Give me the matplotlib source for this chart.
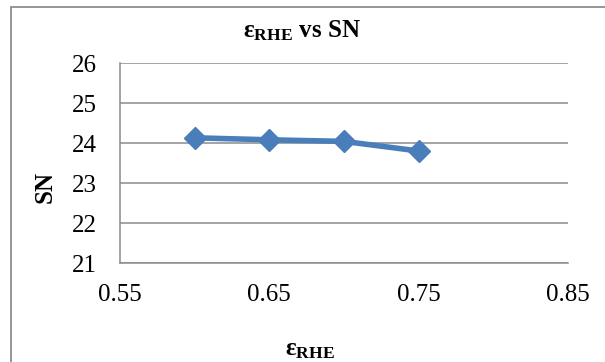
import matplotlib.pyplot as plt
from matplotlib.patches import Rectangle

plt.rcParams['font.family'] = ['Liberation Serif', 'DejaVu Serif']
plt.rcParams['mathtext.fontset'] = 'custom'
plt.rcParams['mathtext.rm'] = 'Liberation Serif'
plt.rcParams['mathtext.bf'] = 'Liberation Serif:bold'
plt.rcParams['mathtext.it'] = 'Liberation Serif:italic'

# epsilon_RHE vs signal-to-noise
eps_rhe = [0.60, 0.65, 0.70, 0.75]
sn = [24.13, 24.08, 24.04, 23.80]

x_ticks = [0.55, 0.65, 0.75, 0.85]
x_labels = ['0.55', '0.65', '0.75', '0.85']
y_ticks = [21, 22, 23, 24, 25, 26]

W, H = 605, 362
fig = plt.figure(figsize=(W / 100, H / 100), dpi=100)
ax = fig.add_axes([120 / W, 1 - 263 / H, 448 / W, 200 / H])

# chart frame (right and bottom edges run off the image)
fig.patches.append(Rectangle((11 / W, -0.1), 1.2, 1 - 7 / H + 0.1,
                             transform=fig.transFigure, fill=False,
                             edgecolor='#8c8c8c', lw=1.3))

ax.plot(eps_rhe, sn, color='#4a7ebb', lw=4, marker='D', markersize=11,
        markeredgecolor='#4a7ebb', zorder=3, clip_on=False)

ax.set_xlim(0.55, 0.85)
ax.set_ylim(21, 26)
ax.set_xticks(x_ticks)
ax.set_xticklabels(x_labels)
ax.set_yticks(y_ticks)
ax.tick_params(axis='both', labelsize=18, length=0, colors='black')
ax.tick_params(axis='y', pad=17)
ax.tick_params(axis='x', pad=15)

ax.grid(axis='y', color='#8c8c8c', lw=1.1)
ax.set_axisbelow(True)
for side in ['top', 'right']:
    ax.spines[side].set_visible(False)
for side in ['left', 'bottom']:
    ax.spines[side].set_color('#8c8c8c')
    ax.spines[side].set_linewidth(1.1)

fig.text(302 / W, 1 - 37 / H, r'ε$_{\mathbf{RHE}}$ vs SN', fontsize=18,
         fontweight='bold', ha='center', va='baseline')
fig.text(45 / W, 1 - 187 / H, 'SN', fontsize=18, fontweight='bold',
         rotation=90, ha='center', va='center')
fig.text(310 / W, 1 - 355 / H, r'ε$_{\mathbf{RHE}}$', fontsize=18,
         fontweight='bold', ha='center', va='baseline')

fig.savefig('out.png', dpi=100)
